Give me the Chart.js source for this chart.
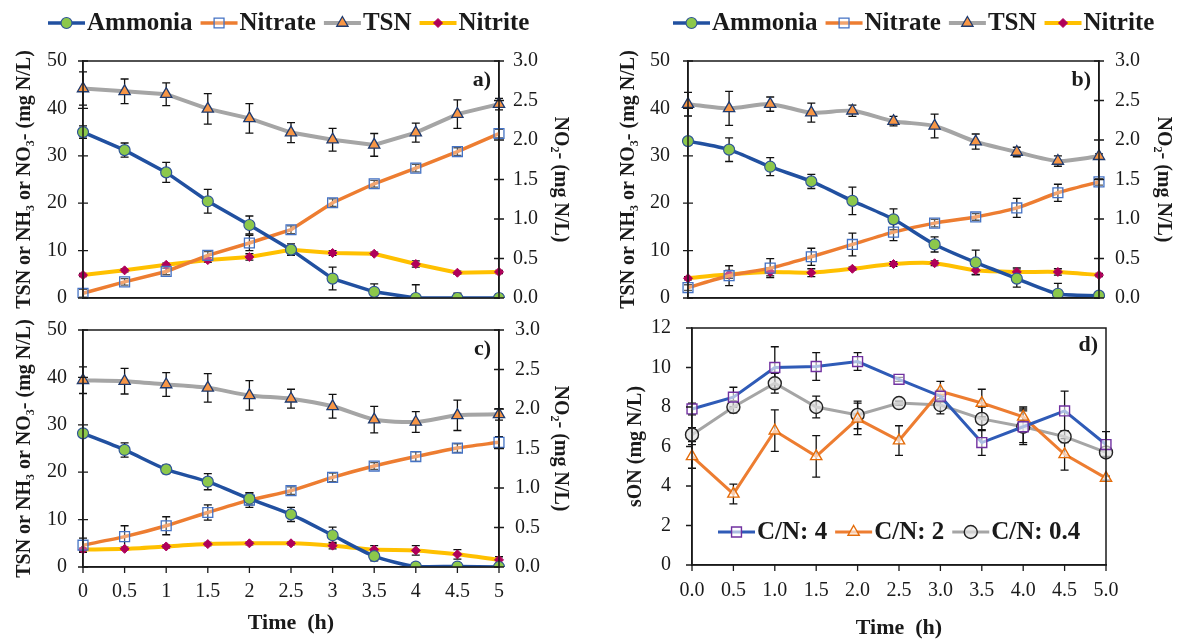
<!DOCTYPE html>
<html>
<head>
<meta charset="utf-8">
<script src="https://cdn.jsdelivr.net/npm/chart.js@4.4.1/dist/chart.umd.min.js"></script>
<style>
  html, body { margin: 0; padding: 0; background: #fff; overflow: hidden; }
  #quadro { position: relative; width: 1186px; height: 640px; }
  #quadro canvas { position: absolute; left: 0; top: 0; }
</style>
</head>
<body>
<div id="quadro">
  <canvas id="painelA" width="1186" height="640"></canvas>
  <canvas id="painelB" width="1186" height="640"></canvas>
  <canvas id="painelC" width="1186" height="640"></canvas>
  <canvas id="painelD" width="1186" height="640"></canvas>
</div>
<script>
// dados:
const tempo = ["0", "0.5", "1", "1.5", "2", "2.5", "3", "3.5", "4", "4.5", "5"];
const tempoD = ["0.0", "0.5", "1.0", "1.5", "2.0", "2.5", "3.0", "3.5", "4.0", "4.5", "5.0"];
const nomesSeries = ["Ammonia", "Nitrate", "TSN", "Nitrite"];
const nomesCN = ["C/N: 4", "C/N: 2", "C/N: 0.4"];
const ticksEsq = [0, 50, 10];
const ticksDir = [0, 3, 0.5];
const ticksSon = [0, 12, 2];

// painel a)
const amoniaA = [35.0, 31.2, 26.5, 20.4, 15.4, 10.2, 4.1, 1.3, 0, 0, 0];
const amoniaAErr = [1.3, 1.5, 2.1, 2.5, 1.9, 1.2, 2.4, 1.7, 2.8, 1.0, 0.8];
const nitratoA = [1.0, 3.4, 5.6, 9.0, 11.6, 14.4, 20.1, 24.1, 27.4, 30.9, 34.7];
const nitratoAErr = [0.8, 0.7, 0.7, 0.8, 1.6, 0.8, 0.8, 0.7, 0.8, 0.8, 0.9];
const tsnA = [44.2, 43.6, 43.0, 39.9, 37.9, 34.9, 33.4, 32.3, 34.9, 38.8, 40.9];
const tsnAErr = [3.5, 2.6, 2.4, 3.2, 3.1, 2.1, 2.4, 2.4, 2.0, 3.0, 1.2];
const nitritoA = [0.29, 0.35, 0.42, 0.48, 0.52, 0.61, 0.57, 0.56, 0.43, 0.32, 0.33];
const nitritoAErr = [0.02, 0.02, 0.02, 0.03, 0.04, 0.05, 0.03, 0.02, 0.04, 0.02, 0.02];

// painel b)
const amoniaB = [33.1, 31.3, 27.7, 24.6, 20.5, 16.6, 11.3, 7.5, 4.1, 0.9, 0.5];
const amoniaBErr = [0.6, 2.5, 1.9, 1.5, 2.9, 2.2, 1.6, 2.6, 1.8, 2.2, 0.3];
const nitratoB = [2.2, 4.7, 6.3, 8.7, 11.3, 13.9, 15.8, 17.1, 19.0, 22.2, 24.5];
const nitratoBErr = [0.6, 2.1, 2.0, 1.8, 2.4, 1.8, 0.8, 0.7, 2.0, 1.8, 0.7];
const tsnB = [40.9, 40.0, 40.9, 39.1, 39.5, 37.3, 36.3, 33.0, 30.8, 28.9, 29.9];
const tsnBErr = [2.5, 3.6, 1.5, 2.0, 1.2, 1.0, 2.5, 1.6, 1.0, 1.1, 0.5];
const nitritoB = [0.25, 0.30, 0.33, 0.32, 0.37, 0.43, 0.44, 0.35, 0.33, 0.33, 0.29];
const nitritoBErr = [0.02, 0.05, 0.05, 0.05, 0.02, 0.03, 0.03, 0.05, 0.05, 0.04, 0.02];

// painel c)
const amoniaC = [28.2, 24.7, 20.6, 18.0, 14.4, 11.1, 6.7, 2.3, 0.1, 0.1, 0];
const amoniaCErr = [0.8, 1.5, 0.9, 1.7, 1.3, 1.5, 1.7, 1.0, 0.3, 0.3, 0.2];
const nitratoC = [4.6, 6.4, 8.7, 11.5, 14.1, 16.1, 18.9, 21.3, 23.3, 25.1, 26.3];
const nitratoCErr = [1.5, 2.3, 1.9, 1.6, 1.5, 0.8, 0.9, 0.7, 1.0, 0.9, 1.2];
const tsnC = [39.4, 39.2, 38.5, 37.8, 36.2, 35.5, 33.9, 31.1, 30.6, 32.0, 32.2];
const tsnCErr = [2.8, 2.7, 2.5, 3.0, 3.1, 2.0, 2.5, 2.8, 2.2, 3.2, 1.2];
const nitritoC = [0.22, 0.23, 0.26, 0.29, 0.30, 0.30, 0.27, 0.22, 0.21, 0.16, 0.09];
const nitritoCErr = [0.02, 0.02, 0.02, 0.02, 0.02, 0.02, 0.04, 0.05, 0.06, 0.06, 0.04];

// painel d)
const son4 = [7.9, 8.5, 10.0, 10.05, 10.3, 9.4, 8.55, 6.2, 7.0, 7.8, 6.1];
const son4Err = [0.3, 0.5, 1.05, 0.7, 0.45, 0.1, 0.3, 0.65, 0.8, 1.0, 0.65];
const son2 = [5.5, 3.6, 6.8, 5.5, 7.4, 6.3, 8.8, 8.2, 7.5, 5.6, 4.4];
const son2Err = [0.6, 0.5, 1.05, 1.05, 0.8, 0.75, 0.5, 0.7, 0.5, 0.8, 0.1];
const son04 = [6.6, 8.0, 9.2, 8.0, 7.6, 8.2, 8.1, 7.4, 7.0, 6.5, 5.7];
const son04Err = [0.35, 0.3, 0.5, 0.55, 0.7, 0.1, 0.45, 0.6, 0.9, 0.3, 0.2];

// estilos:
const FONTE = '"Liberation Serif", "Times New Roman", serif';
const COR_EIXO = "#1a1a1a";
const W = 1186, H = 640;
Chart.defaults.font.family = FONTE;
Chart.defaults.color = COR_EIXO;

const estAmonia = { borderColor: "#2150A0", borderWidth: 3.5, pointStyle: "circle", pointRadius: 5.5, pointBackgroundColor: "#8CC84B", pointBorderColor: "#2F5597", pointBorderWidth: 1.2 };
const estNitrato = { borderColor: "#ED7D31", borderWidth: 3.5, pointStyle: "rect", pointRadius: 7, pointBackgroundColor: "rgba(255,255,255,0.3)", pointBorderColor: "#4472C4", pointBorderWidth: 1.3 };
const estTsn = { borderColor: "#A5A5A5", borderWidth: 4, pointStyle: "triangle", pointRadius: 6.5, pointBackgroundColor: "#F79646", pointBorderColor: "#1F3A6E", pointBorderWidth: 1.3 };
const estNitrito = { borderColor: "#FFC000", borderWidth: 4, pointStyle: "rectRot", pointRadius: 4.5, pointBackgroundColor: "#B0005A", pointBorderColor: "#B0005A", pointBorderWidth: 1 };
const estCn4 = { borderColor: "#2F5BB7", borderWidth: 3, pointStyle: "rect", pointRadius: 7, pointBackgroundColor: "rgba(255,255,255,0.6)", pointBorderColor: "#7030A0", pointBorderWidth: 1.4 };
const estCn2 = { borderColor: "#ED7D31", borderWidth: 3, pointStyle: "triangle", pointRadius: 6.5, pointBackgroundColor: "rgba(255,255,255,0.6)", pointBorderColor: "#E46C0A", pointBorderWidth: 1.4 };
const estCn04 = { borderColor: "#A5A5A5", borderWidth: 3, pointStyle: "circle", pointRadius: 6.5, pointBackgroundColor: "rgba(225,225,225,0.7)", pointBorderColor: "#222222", pointBorderWidth: 1.4 };

// funções:
function serie(nome, dados, erros, estilo, eixo, tensao) {
  return { label: nome, data: dados, erros: erros, yAxisID: eixo, fill: false, tension: tensao, ...estilo };
}

function desenharLegenda(chart, x, y) {
  const ctx = chart.ctx;
  ctx.save();
  ctx.font = `bold 25px ${FONTE}`;
  ctx.textBaseline = "middle";
  ctx.textAlign = "left";
  chart.data.datasets.forEach((ds) => {
    ctx.strokeStyle = ds.borderColor;
    ctx.lineWidth = ds.borderWidth;
    ctx.beginPath();
    ctx.moveTo(x, y);
    ctx.lineTo(x + 37, y);
    ctx.stroke();
    ctx.fillStyle = ds.pointBackgroundColor;
    ctx.strokeStyle = ds.pointBorderColor;
    ctx.lineWidth = ds.pointBorderWidth;
    Chart.helpers.drawPoint(ctx, { pointStyle: ds.pointStyle, radius: ds.pointRadius, borderWidth: ds.pointBorderWidth, rotation: 0 }, x + 18.5, y);
    ctx.fillStyle = COR_EIXO;
    ctx.fillText(ds.label, x + 39, y + 1);
    x += 39 + ctx.measureText(ds.label).width + 8;
  });
  ctx.restore();
}

function pluginErros() {
  return {
    id: "erros",
    beforeDatasetsDraw(chart) {
      const { ctx, chartArea } = chart;
      ctx.save();
      ctx.beginPath();
      ctx.rect(chartArea.left - 6, chartArea.top, chartArea.width + 12, chartArea.height);
      ctx.clip();
      ctx.strokeStyle = "#111";
      ctx.lineWidth = 1.3;
      chart.data.datasets.forEach((ds, i) => {
        const meta = chart.getDatasetMeta(i);
        const escala = chart.scales[meta.yAxisID];
        meta.data.forEach((pt, j) => {
          const e = ds.erros[j];
          if (!e) return;
          const y1 = escala.getPixelForValue(ds.data[j] + e);
          const y2 = escala.getPixelForValue(ds.data[j] - e);
          ctx.beginPath();
          ctx.moveTo(pt.x, y1); ctx.lineTo(pt.x, y2);
          ctx.moveTo(pt.x - 4, y1); ctx.lineTo(pt.x + 4, y1);
          ctx.moveTo(pt.x - 4, y2); ctx.lineTo(pt.x + 4, y2);
          ctx.stroke();
        });
      });
      ctx.restore();
    },
  };
}

// moldura, marcas dos eixos, letra do painel e legenda
function pluginMoldura(marcas, letra, legenda) {
  return {
    id: "moldura",
    afterDraw(chart) {
      const { ctx, chartArea: a } = chart;
      ctx.save();
      ctx.strokeStyle = COR_EIXO;
      ctx.lineWidth = 1.5;
      ctx.strokeRect(a.left, a.top, a.right - a.left, a.bottom - a.top);
      ctx.lineWidth = 1.3;
      for (const id in marcas) {
        const [dentro, fora] = marcas[id];
        const s = chart.scales[id];
        ctx.beginPath();
        s.ticks.forEach((t, i) => {
          const p = s.getPixelForTick(i);
          if (s.axis === "x") { ctx.moveTo(p, s.top - dentro); ctx.lineTo(p, s.top + fora); }
          else if (s.position === "left") { ctx.moveTo(s.right - fora, p); ctx.lineTo(s.right + dentro, p); }
          else { ctx.moveTo(s.left - dentro, p); ctx.lineTo(s.left + fora, p); }
        });
        ctx.stroke();
      }
      ctx.font = `bold 22px ${FONTE}`;
      ctx.fillStyle = COR_EIXO;
      ctx.textAlign = "right";
      ctx.textBaseline = "middle";
      ctx.fillText(letra[0], a.right - 8, a.top + letra[1]);
      ctx.restore();
      desenharLegenda(chart, legenda[0], legenda[1]);
    },
  };
}

function montarPainel(id, p) {
  const esqBorda = p.tituloEsqX - 10;
  const dirBorda = p.tituloDirX ? p.tituloDirX + 10 : p.area.r;
  const baseX = p.tituloBaixoY ? p.tituloBaixoY + 11 : p.area.b;
  const fonteTick = { size: 20 };
  const fonteTitulo = { size: 20, weight: "bold", lineHeight: 1 };

  const escalas = {
    x: {
      type: "category",
      labels: p.rotulos,
      offset: false,
      grid: { display: false, drawTicks: false },
      border: { display: true, color: COR_EIXO, width: 1.5 },
      ticks: { display: !!p.tituloBaixoY, font: fonteTick, padding: p.padX || 0, autoSkip: false, maxRotation: 0 },
      title: { display: !!p.tituloBaixoY, text: "Time  (h)", font: { size: 22, weight: "bold", lineHeight: 1 }, padding: 0 },
      afterFit: (s) => { s.height = baseX - p.area.b; },
    },
    y: {
      position: "left",
      min: p.ticksEsq[0], max: p.ticksEsq[1],
      grid: { display: false, drawTicks: false },
      border: { display: true, color: COR_EIXO, width: 1.5 },
      ticks: { stepSize: p.ticksEsq[2], font: fonteTick, padding: p.padEsq },
      title: { display: true, text: p.tituloEsq, font: fonteTitulo, padding: 0 },
      afterFit: (s) => { s.width = p.area.l - esqBorda; },
    },
  };
  if (p.tituloDirX) {
    escalas.y2 = {
      position: "right",
      min: ticksDir[0], max: ticksDir[1],
      grid: { display: false, drawTicks: false },
      border: { display: true, color: COR_EIXO, width: 1.5 },
      ticks: { stepSize: ticksDir[2], font: fonteTick, padding: p.padDir, callback: (v) => Number(v).toFixed(1) },
      title: { display: true, text: "NO\u2082- (mg N/L)", font: fonteTitulo, padding: 0 },
      afterFit: (s) => { s.width = dirBorda - p.area.r; },
    };
  }

  return new Chart(document.getElementById(id), {
    type: "line",
    data: { labels: p.rotulos, datasets: p.series },
    options: {
      responsive: false,
      animation: false,
      devicePixelRatio: 1,
      events: [],
      layout: { padding: { left: esqBorda, right: W - dirBorda, top: p.area.t, bottom: H - baseX } },
      scales: escalas,
      plugins: { legend: { display: false }, tooltip: { enabled: false } },
    },
    plugins: [pluginErros(), pluginMoldura(p.marcas, p.letra, p.legenda)],
  });
}

function seriesNitrogenio(am, amE, ni, niE, ts, tsE, no2, no2E, tensao) {
  return [
    serie(nomesSeries[0], am, amE, estAmonia, "y", tensao),
    serie(nomesSeries[1], ni, niE, estNitrato, "y", tensao),
    serie(nomesSeries[2], ts, tsE, estTsn, "y", tensao),
    serie(nomesSeries[3], no2, no2E, estNitrito, "y2", tensao),
  ];
}

const tituloTsn = "TSN or NH\u2083 or NO\u2083- (mg N/L)";

montarPainel("painelA", {
  rotulos: tempo,
  series: seriesNitrogenio(amoniaA, amoniaAErr, nitratoA, nitratoAErr, tsnA, tsnAErr, nitritoA, nitritoAErr, 0),
  area: { l: 83, t: 61, r: 499, b: 298 },
  ticksEsq: ticksEsq,
  tituloEsq: tituloTsn, tituloEsqX: 25, tituloDirX: 560,
  padEsq: 16, padDir: 14,
  marcas: { y: [5, 5], y2: [5, 5] },
  letra: ["a)", 19],
  legenda: [48, 23],
});

montarPainel("painelB", {
  rotulos: tempo,
  series: seriesNitrogenio(amoniaB, amoniaBErr, nitratoB, nitratoBErr, tsnB, tsnBErr, nitritoB, nitritoBErr, 0.25),
  area: { l: 688, t: 61, r: 1099, b: 298 },
  ticksEsq: ticksEsq,
  tituloEsq: tituloTsn, tituloEsqX: 629, tituloDirX: 1163,
  padEsq: 18, padDir: 16,
  marcas: { y: [5, 5], y2: [5, 5] },
  letra: ["b)", 19],
  legenda: [673, 23],
});

montarPainel("painelC", {
  rotulos: tempo,
  series: seriesNitrogenio(amoniaC, amoniaCErr, nitratoC, nitratoCErr, tsnC, tsnCErr, nitritoC, nitritoCErr, 0.25),
  area: { l: 83, t: 330, r: 499, b: 567 },
  ticksEsq: ticksEsq,
  tituloEsq: tituloTsn, tituloEsqX: 25, tituloDirX: 560, tituloBaixoY: 623,
  padEsq: 16, padDir: 16, padX: 13,
  marcas: { y: [5, 5], y2: [5, 5], x: [0, 6] },
  letra: ["c)", 19],
  legenda: [-9999, -9999],
});

montarPainel("painelD", {
  rotulos: tempoD,
  series: [
    serie(nomesCN[0], son4, son4Err, estCn4, "y", 0),
    serie(nomesCN[1], son2, son2Err, estCn2, "y", 0),
    serie(nomesCN[2], son04, son04Err, estCn04, "y", 0),
  ],
  area: { l: 692, t: 328, r: 1106, b: 565 },
  ticksEsq: ticksSon,
  tituloEsq: "sON (mg N/L)", tituloEsqX: 636, tituloBaixoY: 628,
  padEsq: 21, padX: 14,
  marcas: { y: [0, 6], x: [0, 6] },
  letra: ["d)", 17],
  legenda: [718, 532],
});
</script>
</body>
</html>
